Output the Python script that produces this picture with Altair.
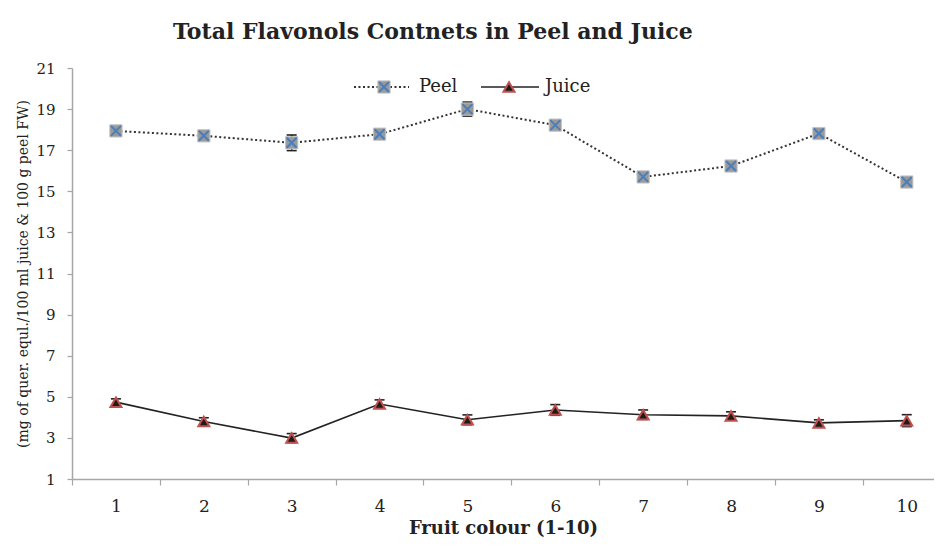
import altair as alt
import pandas as pd

categories = [1, 2, 3, 4, 5, 6, 7, 8, 9, 10]
peel = [17.94, 17.70, 17.36, 17.78, 19.00, 18.22, 15.70, 16.23, 17.81, 15.45]
peel_err = [0.15, 0.15, 0.38, 0.15, 0.34, 0.15, 0.15, 0.15, 0.15, 0.15]
juice = [4.74, 3.80, 2.99, 4.65, 3.88, 4.36, 4.13, 4.07, 3.73, 3.84]
juice_err = [0.16, 0.18, 0.22, 0.20, 0.24, 0.26, 0.23, 0.20, 0.15, 0.29]
series_names = ["Peel", "Juice"]
y_ticks = [1, 3, 5, 7, 9, 11, 13, 15, 17, 19, 21]
x_tick_edges = [c - 0.5 for c in categories]

df = pd.DataFrame({
    "x": categories,
    "peel": peel,
    "peel_lo": [v - e for v, e in zip(peel, peel_err)],
    "peel_hi": [v + e for v, e in zip(peel, peel_err)],
    "juice": juice,
    "juice_lo": [v - e for v, e in zip(juice, juice_err)],
    "juice_hi": [v + e for v, e in zip(juice, juice_err)],
})

SERIF = "DejaVu Serif"
AX = "#a6a6a6"

xscale = alt.Scale(domain=[0.5, 10.31], nice=False, zero=False)
yscale = alt.Scale(domain=[1, 21], nice=False, zero=False)

X = alt.X("x:Q", scale=xscale, axis=alt.Axis(
    values=x_tick_edges, labelExpr="format(datum.value + 0.5, 'd')",
    labelOffset=44, tickSize=6, labelPadding=13, grid=False,
    labelFont=SERIF, labelFontSize=17, labelColor="#222",
    labelOverlap=False, labelBound=False, labelFlush=False,
    domainColor=AX, domainWidth=1.5, tickColor=AX, tickWidth=1.2,
    title="Fruit colour (1-10)", titleFont=SERIF, titleFontSize=18,
    titleFontWeight="bold", titleColor="#222", titlePadding=5))

def Y(field, axis=True):
    if axis:
        return alt.Y(field + ":Q", scale=yscale, axis=alt.Axis(
            values=y_ticks, tickSize=5, labelPadding=12, grid=False,
            labelFont=SERIF, labelFontSize=15, labelColor="#222",
            domainColor=AX, domainWidth=1.5, tickColor=AX, tickWidth=1.2,
            title="(mg of quer. equl./100 ml juice & 100 g peel FW)",
            titleFont=SERIF, titleFontSize=14, titleFontWeight="normal",
            titleColor="#222", titlePadding=5))
    return alt.Y(field + ":Q", scale=yscale)

base = alt.Chart(df)

peel_line = base.mark_line(color="#333333", strokeDash=[2, 2.5], strokeWidth=2).encode(x=X, y=Y("peel"))
juice_line = base.mark_line(color="#222222", strokeWidth=1.6).encode(x=X, y=Y("juice", False))

def errbars(name):
    rule = base.mark_rule(color="#222", strokeWidth=1.5).encode(
        x=X, y=Y(name + "_lo", False), y2=alt.Y2(name + "_hi"))
    lo = base.mark_tick(orient="horizontal", size=10, thickness=1.6, color="#222", opacity=1).encode(
        x=X, y=Y(name + "_lo", False))
    hi = base.mark_tick(orient="horizontal", size=10, thickness=1.6, color="#222", opacity=1).encode(
        x=X, y=Y(name + "_hi", False))
    return rule + lo + hi

peel_sq = base.mark_point(shape="square", filled=True, fill="#9a9a9a", stroke="#c4c4c4",
                          strokeWidth=1, size=150, opacity=1).encode(x=X, y=Y("peel", False))
XPATH = "M-1,-1L1,1M1,-1L-1,1"
peel_x = base.mark_point(shape=XPATH, filled=False, stroke="#4a7ebb", strokeWidth=2,
                         size=100, opacity=1).encode(x=X, y=Y("peel", False))
juice_tri = base.mark_point(shape="triangle-up", filled=True, fill="#1c1c1c", stroke="#c0504d",
                            strokeWidth=2, size=120, opacity=1).encode(x=X, y=Y("juice", False))

# legend (drawn inside the plot, top centre)
leg_peel = pd.DataFrame({"name": [series_names[0]]})
leg_juice = pd.DataFrame({"name": [series_names[1]]})
LY = 19
lp = alt.Chart(leg_peel)
lj = alt.Chart(leg_juice)
legend = (
    lp.mark_rule(color="#333333", strokeDash=[2, 2.5], strokeWidth=2).encode(
        x=alt.value(282), x2=alt.value(337), y=alt.value(LY))
    + lp.mark_point(shape="square", filled=True, fill="#9a9a9a", stroke="#c4c4c4",
                    strokeWidth=1, size=150, opacity=1).encode(x=alt.value(312), y=alt.value(LY))
    + lp.mark_point(shape=XPATH, filled=False, stroke="#4a7ebb", strokeWidth=2,
                    size=100, opacity=1).encode(x=alt.value(312), y=alt.value(LY))
    + lp.mark_text(align="left", baseline="middle", font=SERIF, fontSize=18, color="#222").encode(
        x=alt.value(347), y=alt.value(LY), text="name:N")
    + lj.mark_rule(color="#222222", strokeWidth=1.6).encode(
        x=alt.value(409), x2=alt.value(467), y=alt.value(LY))
    + lj.mark_point(shape="triangle-up", filled=True, fill="#1c1c1c", stroke="#c0504d",
                    strokeWidth=2, size=120, opacity=1).encode(x=alt.value(437), y=alt.value(LY))
    + lj.mark_text(align="left", baseline="middle", font=SERIF, fontSize=18, color="#222").encode(
        x=alt.value(473), y=alt.value(LY), text="name:N")
)

chart = alt.layer(
    peel_line, juice_line,
    errbars("peel"), errbars("juice"),
    peel_sq, peel_x, juice_tri,
    legend,
).properties(
    width=862, height=411,
    padding={"left": 8, "top": 13, "right": 0, "bottom": 0},
    title=alt.TitleParams("Total Flavonols Contnets in Peel and Juice", anchor="start",
                          frame="group", dx=101, font=SERIF, fontSize=22, fontWeight="bold",
                          color="#222", offset=17),
).configure_view(stroke=None)

chart.save("out.html", embed_options={"renderer": "svg", "actions": False})
